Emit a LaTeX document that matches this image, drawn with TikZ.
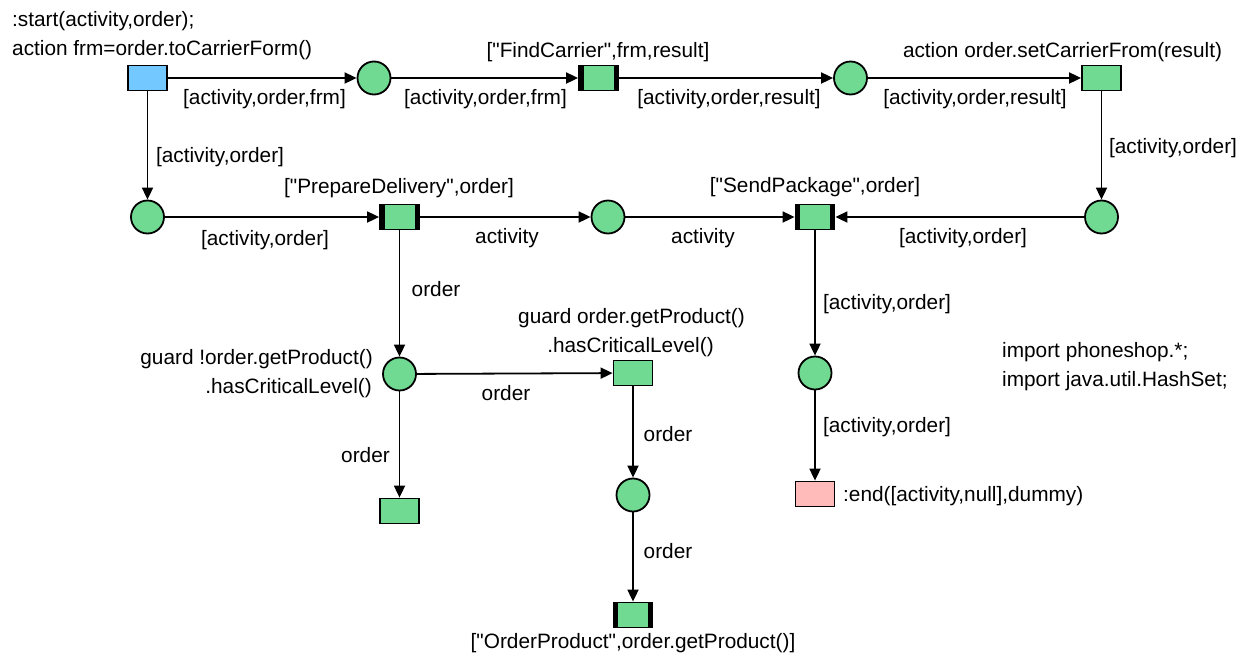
\documentclass[tikz,border=0pt]{standalone}
\usepackage{fontspec}
\setmainfont{Liberation Sans}[Ligatures=TeXOff]
\usetikzlibrary{arrows.meta}
\definecolor{pn}{RGB}{112,218,146}
\definecolor{startc}{RGB}{115,200,255}
\definecolor{endc}{RGB}{255,186,186}
\tikzset{
 place/.style={circle, draw=black, line width=1.8pt, fill=pn, minimum size=33pt, inner sep=0pt},
 trans/.style={rectangle, draw=black, line width=1.8pt, fill=pn, minimum width=39pt, minimum height=25pt, inner sep=0pt},
 bartrans/.style={trans, path picture={
   \fill[black] (path picture bounding box.south west) rectangle ([xshift=4.5pt]path picture bounding box.north west);
   \fill[black] (path picture bounding box.south east) rectangle ([xshift=-4.5pt]path picture bounding box.north east);}},
 arc/.style={draw=black, line width=1.8pt, -{Triangle[length=12pt,width=11pt]}},
 lbl/.style={inner sep=0pt, font=\fontsize{20.8}{28}\selectfont},
}
\begin{document}
\begin{tikzpicture}[x=1pt,y=-1pt]
\useasboundingbox (0,0) rectangle (1253,659);
% nodes
\node[trans, fill=startc] (st) at (147.5,78) {};
\node[place] (p1) at (374,78) {};
\node[bartrans] (fc) at (598.5,78) {};
\node[place] (p2) at (850.5,78) {};
\node[trans] (sc) at (1101.5,78) {};
\node[place] (pl) at (147.5,217) {};
\node[bartrans] (pd) at (399.5,217) {};
\node[place] (pm) at (608,217) {};
\node[bartrans] (sp) at (815,217) {};
\node[place] (pr) at (1101.5,217) {};
\node[place] (pg) at (399.5,374) {};
\node[trans] (gt) at (633,373) {};
\node[trans] (bl) at (399.5,511) {};
\node[place] (po) at (633,495) {};
\node[bartrans] (op) at (633,615) {};
\node[place] (ps) at (815,373) {};
\node[trans, fill=endc] (en) at (815,494) {};
% arcs
\draw[arc] (st) -- (p1);
\draw[arc] (p1) -- (fc);
\draw[arc] (fc) -- (p2);
\draw[arc] (p2) -- (sc);
\draw[arc] (st) -- (pl);
\draw[arc] (sc) -- (pr);
\draw[arc] (pl) -- (pd);
\draw[arc] (pd) -- (pm);
\draw[arc] (pm) -- (sp);
\draw[arc] (pr) -- (sp);
\draw[arc] (pd) -- (pg);
\draw[arc] (pg) -- (gt);
\draw[arc] (pg) -- (bl);
\draw[arc] (gt) -- (po);
\draw[arc] (po) -- (op);
\draw[arc] (sp) -- (ps);
\draw[arc] (ps) -- (en);
% labels
\node[lbl, anchor=west] (t1) at (12,21) {:start(activity,order);};
\node[lbl, anchor=west] (t2) at (12,50) {action frm=order.toCarrierForm()};
\node[lbl] (l1) at (264.5,99) {[activity,order,frm]};
\node[lbl] (l2) at (485.5,99) {[activity,order,frm]};
\node[lbl] (l3) at (598,52) {["FindCarrier",frm,result]};
\node[lbl] (l4) at (729,99) {[activity,order,result]};
\node[lbl] (l5) at (975,99) {[activity,order,result]};
\node[lbl] (l6) at (1062.5,52) {action order.setCarrierFrom(result)};
\node[lbl] (l7) at (1173,148) {[activity,order]};
\node[lbl] (l8) at (220,157) {[activity,order]};
\node[lbl] (l9) at (399,188) {["PrepareDelivery",order]};
\node[lbl] (l10) at (265,240) {[activity,order]};
\node[lbl] (l11) at (507,238) {activity};
\node[lbl] (l12) at (703,238) {activity};
\node[lbl] (l13) at (815,187) {["SendPackage",order]};
\node[lbl] (l14) at (963,238) {[activity,order]};
\node[lbl] (l15) at (436,289) {order};
\node[lbl] (l16) at (887,304) {[activity,order]};
\node[lbl] (l17) at (631.5,318) {guard order.getProduct()};
\node[lbl] (l18) at (630.5,347) {.hasCriticalLevel()};
\node[lbl, anchor=east] (l19) at (373,359) {guard !order.getProduct()};
\node[lbl, anchor=east] (l20) at (372,388) {.hasCriticalLevel()};
\node[lbl] (l21) at (506,393) {order};
\node[lbl] (l22) at (365.5,455) {order};
\node[lbl] (l23) at (668,434) {order};
\node[lbl] (l24) at (668,551) {order};
\node[lbl] (l25) at (633,643) {["OrderProduct",order.getProduct()]};
\node[lbl, anchor=west] (l26) at (1002,352) {import phoneshop.*;};
\node[lbl, anchor=west] (l27) at (1002,381) {import java.util.HashSet;};
\node[lbl] (l28) at (887,427) {[activity,order]};
\node[lbl, anchor=west] (l29) at (843,496) {:end([activity,null],dummy)};
\end{tikzpicture}
\end{document}
